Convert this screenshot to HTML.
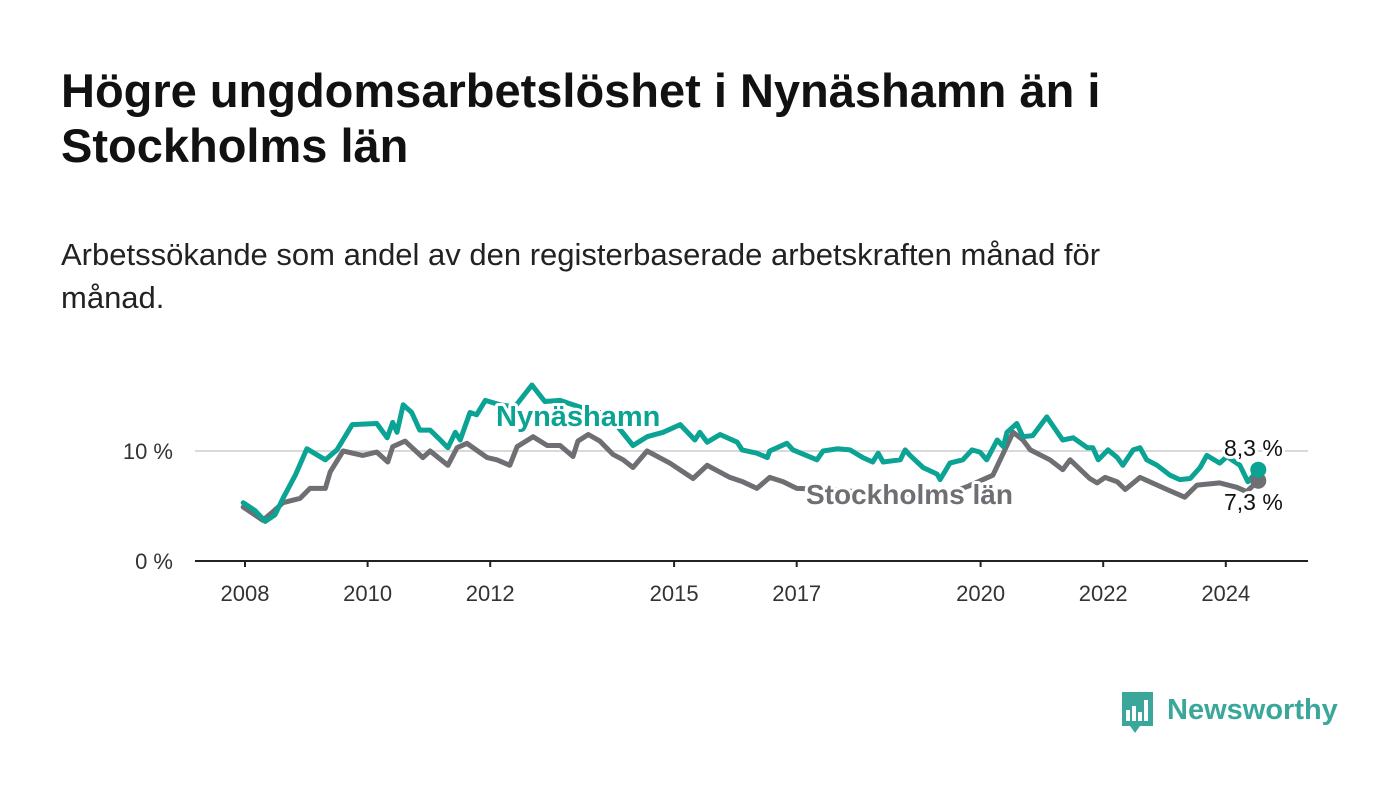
<!DOCTYPE html>
<html><head><meta charset="utf-8"><style>
body{margin:0;background:#fff;width:1400px;height:794px;overflow:hidden;font-family:"Liberation Sans",sans-serif;}
h1{position:absolute;left:61px;top:63px;margin:0;font-size:47px;line-height:55px;font-weight:bold;color:#111;width:1150px;}
p.sub{position:absolute;left:61px;top:233px;margin:0;font-size:31px;line-height:43px;color:#222;width:1150px;}
svg{position:absolute;left:0;top:0;}
</style></head><body>
<h1>Högre ungdomsarbetslöshet i Nynäshamn än i Stockholms län</h1>
<p class="sub">Arbetssökande som andel av den registerbaserade arbetskraften månad för månad.</p>
<svg id="chart" width="1400" height="794"></svg>
<script>
const nynYears=[2007.97,2008.16,2008.33,2008.49,2008.62,2008.82,2009.01,2009.31,2009.50,2009.75,2010.15,2010.32,2010.41,2010.48,2010.58,2010.72,2010.85,2011.02,2011.15,2011.31,2011.43,2011.51,2011.67,2011.78,2011.92,2012.16,2012.40,2012.68,2012.89,2013.14,2013.46,2013.79,2014.04,2014.33,2014.56,2014.82,2015.10,2015.34,2015.42,2015.54,2015.75,2016.03,2016.11,2016.35,2016.52,2016.56,2016.84,2016.94,2017.33,2017.43,2017.66,2017.87,2018.08,2018.24,2018.33,2018.41,2018.69,2018.77,2018.85,2019.06,2019.29,2019.34,2019.50,2019.71,2019.86,2019.99,2020.10,2020.27,2020.37,2020.43,2020.59,2020.69,2020.85,2021.08,2021.34,2021.51,2021.74,2021.83,2021.92,2022.08,2022.23,2022.32,2022.49,2022.60,2022.71,2022.88,2023.09,2023.25,2023.42,2023.58,2023.69,2023.90,2024.02,2024.23,2024.36,2024.53];
const nynValues=[5.3,4.6,3.6,4.2,5.7,7.8,10.2,9.2,10.1,12.4,12.5,11.2,12.6,11.7,14.2,13.5,11.9,11.9,11.2,10.3,11.7,11.0,13.5,13.3,14.6,14.2,14.0,16.0,14.5,14.6,14.0,13.5,12.5,10.5,11.3,11.7,12.4,11.0,11.7,10.8,11.5,10.8,10.1,9.8,9.4,10.0,10.7,10.1,9.2,10.0,10.2,10.1,9.4,9.0,9.8,9.0,9.2,10.1,9.6,8.5,7.9,7.4,8.9,9.2,10.1,9.9,9.2,11.0,10.4,11.7,12.5,11.3,11.4,13.1,11.0,11.2,10.3,10.3,9.2,10.1,9.4,8.7,10.1,10.3,9.2,8.7,7.8,7.4,7.5,8.5,9.6,8.9,9.5,8.7,7.2,8.3];
const sthYears=[2007.97,2008.29,2008.46,2008.62,2008.90,2009.06,2009.31,2009.39,2009.60,2009.92,2010.15,2010.33,2010.41,2010.61,2010.90,2011.02,2011.31,2011.46,2011.62,2011.95,2012.11,2012.32,2012.44,2012.70,2012.93,2013.14,2013.35,2013.43,2013.60,2013.79,2014.00,2014.17,2014.33,2014.56,2014.93,2015.31,2015.54,2015.91,2016.12,2016.35,2016.56,2016.78,2017.00,2017.5,2018.0,2018.5,2019.0,2019.5,2019.8,2020.20,2020.37,2020.53,2020.69,2020.81,2021.13,2021.34,2021.46,2021.78,2021.90,2022.03,2022.23,2022.36,2022.60,2023.04,2023.33,2023.53,2023.90,2024.18,2024.34,2024.53];
const sthValues=[4.9,3.7,4.5,5.3,5.7,6.6,6.6,8.1,10.0,9.6,9.9,9.0,10.4,10.9,9.4,10.0,8.7,10.3,10.7,9.4,9.2,8.7,10.4,11.3,10.5,10.5,9.5,10.9,11.5,10.9,9.7,9.2,8.5,10.0,8.9,7.5,8.7,7.6,7.2,6.6,7.6,7.2,6.6,6.5,6.3,6.2,6.0,6.2,6.8,7.8,9.8,11.7,11.0,10.1,9.2,8.3,9.2,7.5,7.1,7.6,7.2,6.5,7.6,6.5,5.8,6.9,7.1,6.7,6.3,7.3];
const xTicks=[2008,2010,2012,2015,2017,2020,2022,2024];
const yTicks=[0,10];
const yTickLabels=["0 %","10 %"];
const endLabels=["8,3 %","7,3 %"];

const NS="http://www.w3.org/2000/svg";
const svg=document.getElementById('chart');
const X=y=>245+(y-2008)*61.3;
const Y=v=>561-v*11;
function mk(tag,attrs,parent){const e=document.createElementNS(NS,tag);for(const k in attrs)e.setAttribute(k,attrs[k]);(parent||svg).appendChild(e);return e;}

yTicks.forEach((t,i)=>{
  if(t>0){const g=mk('line',{x1:195,x2:1308,y1:Y(t),y2:Y(t),stroke:'#d9d9d9','stroke-width':2});
  
  }
  const l=mk('text',{x:173,y:Y(t)+8,'text-anchor':'end','font-size':22,fill:'#333'});
  l.textContent=yTickLabels[i];
  
  
});
const ax=mk('line',{x1:195,x2:1308,y1:561,y2:561,stroke:'#222','stroke-width':2});


xTicks.forEach(t=>{
  const tk=mk('line',{x1:X(t),x2:X(t),y1:561,y2:567,stroke:'#222','stroke-width':2});
  
  
  const l=mk('text',{x:X(t),y:601,'text-anchor':'middle','font-size':22,fill:'#333'});
  l.textContent=t;
  
  
});
function line(ys,vs,color,name){
  const d=ys.map((y,i)=>(i?'L':'M')+X(y).toFixed(1)+','+Y(vs[i]).toFixed(1)).join('');
  const p=mk('path',{d:d,fill:'none',stroke:color,'stroke-width':5,'stroke-linejoin':'round','stroke-linecap':'round'});
  
  
}
line(sthYears,sthValues,'#6e6e73','stockholm-line');
line(nynYears,nynValues,'#0aa394','nynashamn-line');
const d1=mk('circle',{cx:X(sthYears[sthYears.length-1]),cy:Y(sthValues[sthValues.length-1]),r:8,fill:'#6e6e73'});


const d2=mk('circle',{cx:X(nynYears[nynYears.length-1]),cy:Y(nynValues[nynValues.length-1]),r:8,fill:'#0aa394'});


function lab(txt,x,y,color,size,bold,name){
  const t=mk('text',{x:x,y:y,'font-size':size,'font-weight':bold?'bold':'normal',fill:color,stroke:'#fff','stroke-width':6,'paint-order':'stroke','stroke-linejoin':'round'});
  t.textContent=txt;
  
  
}
lab('Nynäshamn',496,426,'#0aa394',29,true,'nynashamn-label');
lab('Stockholms län',806,504,'#6e6e73',28,true,'stockholm-label');
lab(endLabels[0],1224,456,'#111',23,false,'nynashamn-end-value');
lab(endLabels[1],1224,510,'#111',23,false,'stockholm-end-value');
</script>
<svg width="1400" height="794" style="pointer-events:none">
  <path d="M1122 692h31v34h-13l-5 7-5-7h-8z" fill="#3aa79a"/>
  <rect x="1126" y="710" width="4" height="11" fill="#fff"/>
  <rect x="1132" y="706" width="4" height="15" fill="#fff"/>
  <rect x="1138" y="712" width="4" height="9" fill="#fff"/>
  <rect x="1144" y="700" width="4" height="21" fill="#fff"/>
  <text x="1167" y="719" font-size="29" font-weight="bold" fill="#3aa79a" font-family="Liberation Sans, sans-serif">Newsworthy</text>
</svg>
</body></html>
